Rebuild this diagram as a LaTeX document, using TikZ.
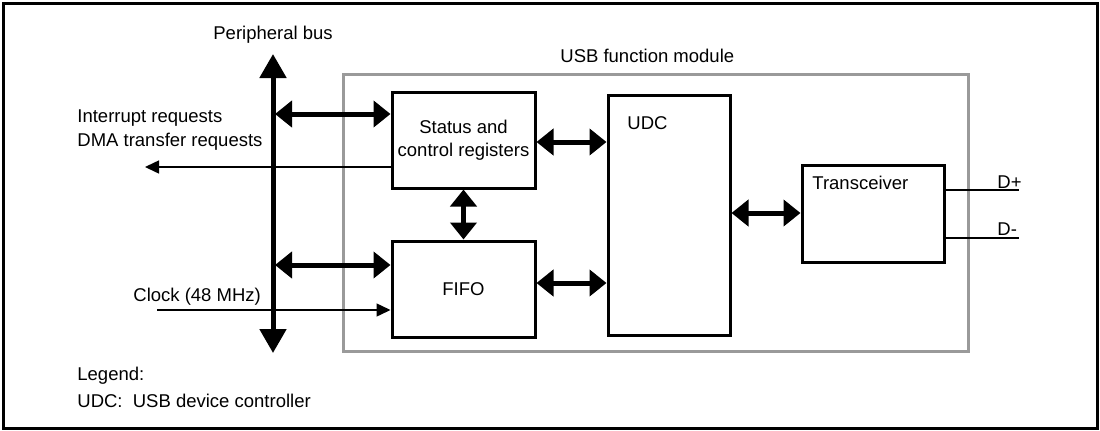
\documentclass[tikz,border=0pt]{standalone}
\usepackage{fontspec}
\setmainfont{Liberation Sans}
\usetikzlibrary{arrows.meta,positioning}

\definecolor{modgray}{HTML}{9A9A9A}

\begin{document}
\begin{tikzpicture}[
  x=0.5pt, y=-0.5pt,
  font=\fontsize{9.25}{11.5}\selectfont,
  blk/.style={draw, line width=1.5pt, inner sep=0pt, align=center},
  modbox/.style={draw=modgray, line width=1.5pt, inner sep=0pt,
    minimum width=312.5pt, minimum height=138.5pt},
  txt/.style={inner sep=0pt, anchor=base west},
  dbl/.style={line width=2.5pt,
    {Triangle[length=8.5pt,width=13pt]}-{Triangle[length=8.5pt,width=13pt]}},
  busarrow/.style={line width=2.5pt,
    {Triangle[length=12pt,width=13pt]}-{Triangle[length=12pt,width=13pt]}},
  sig/.style={line width=0.75pt, -{Triangle[length=7pt,width=6.5pt]}},
  wire/.style={line width=0.75pt}
]
\useasboundingbox (0,0) rectangle (1100,430);

% frame
\draw[line width=1.5pt] (3.5,3.5) rectangle (1097,428.5);

% module and blocks
\node[modbox] (usbmod) at (655.5,212.5) {};
\node[blk, minimum width=71.5pt, minimum height=48pt] (status) at (463.5,140)
  {Status and\\control registers};
\node[blk, minimum width=71.5pt, minimum height=48pt, below=25pt of status] (fifo) {FIFO};
\node[blk, minimum width=61pt, minimum height=120pt] (udc) at (669,215) {};
\node[blk, minimum width=71pt, minimum height=48.5pt] (xcvr) at (873,213.5) {};

% labels
\node[txt] (buslbl) at (213,39) {Peripheral bus};
\node[txt] (modlbl) at (560,62) {USB function module};
\node[txt] (udclbl) at (627,129) {UDC};
\node[txt] (xcvrlbl) at (812,189) {Transceiver};
\node[txt] (irqlbl) at (77,122) {Interrupt requests};
\node[txt] (dmalbl) at (77,146) {DMA transfer requests};
\node[txt] (clklbl) at (133,301) {Clock (48 MHz)};
\node[txt] (dplbl) at (997,188) {D+};
\node[txt] (dmlbl) at (997,235) {D-};
\node[txt] (leglbl) at (77,380) {Legend:};
\node[txt] (udcdef) at (77,407) {UDC:\ \ USB device controller};

% bus
\coordinate (bustop) at (273,54);
\coordinate (busbot) at (273,353);
\draw[busarrow] (bustop) -- (busbot);

% connections
\draw[dbl] (275,114) -- (status.west |- 0,114);
\draw[dbl] (275,265) -- (fifo.west |- 0,265);
\draw[dbl] (status.south) -- (fifo.north);
\draw[dbl] (status.east |- 0,142) -- (udc.west |- 0,142);
\draw[dbl] (fifo.east |- 0,283) -- (udc.west |- 0,283);
\draw[dbl] (udc.east |- 0,213) -- (xcvr.west |- 0,213);

% signals
\coordinate (irqend) at (145,167);
\coordinate (clkstart) at (157,310);
\draw[sig] (status.west |- irqend) -- (irqend);
\draw[sig] (clkstart) -- (fifo.west |- clkstart);
\coordinate (dpend) at (1019,190);
\coordinate (dmend) at (1019,238);
\draw[wire] (xcvr.east |- dpend) -- (dpend);
\draw[wire] (xcvr.east |- dmend) -- (dmend);

\end{tikzpicture}
\end{document}
